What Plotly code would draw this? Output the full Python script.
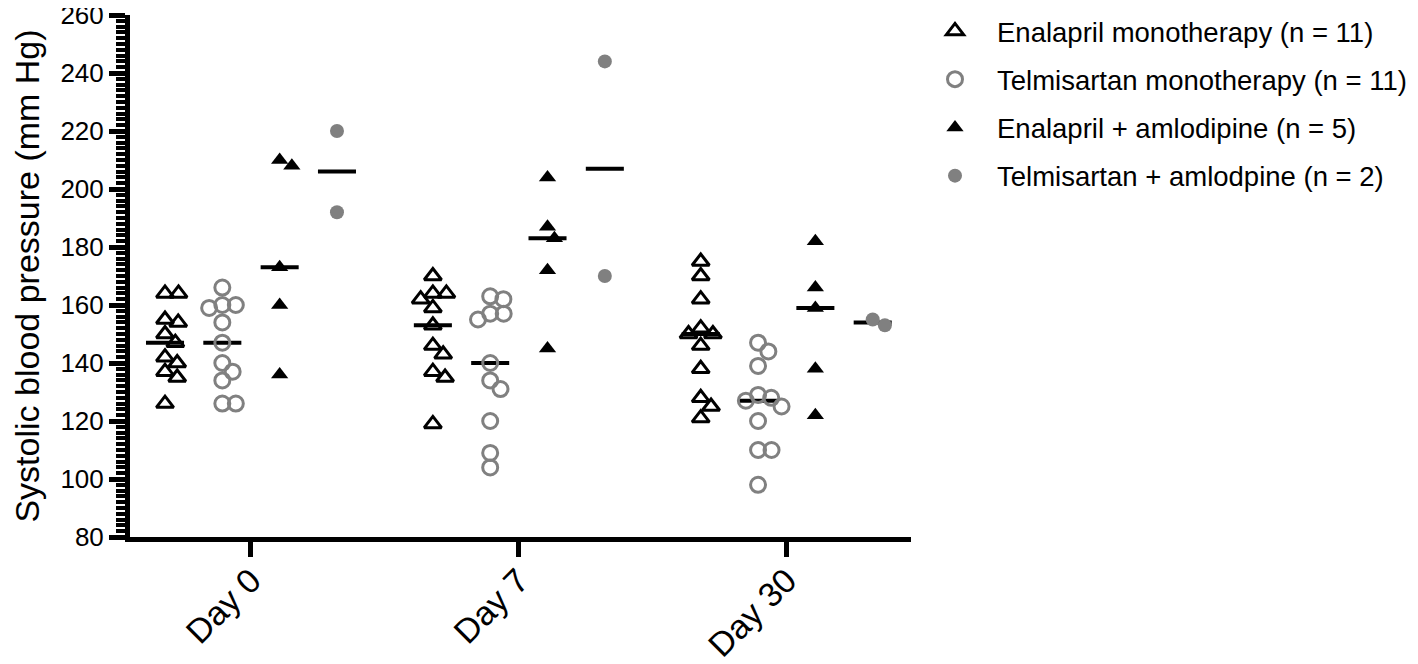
import numpy as np
import plotly.graph_objects as go

# ---------------- data ----------------
days = ["Day 0", "Day 7", "Day 30"]
series_names = [
    "Enalapril monotherapy (n = 11)",
    "Telmisartan monotherapy (n = 11)",
    "Enalapril + amlodipine (n = 5)",
    "Telmisartan + amlodpine (n = 2)",
]

# systolic blood pressure (mm Hg), one list per day (Day 0, Day 7, Day 30)
enalapril_mono = [
    [164, 164, 155, 154, 150, 147, 142, 140, 137, 135, 126],
    [170, 164, 164, 162, 159, 153, 146, 143, 137, 135, 119],
    [175, 170, 162, 152, 150, 150, 146, 138, 128, 125, 121],
]
telmisartan_mono = [
    [166, 160, 159, 160, 154, 147, 140, 137, 134, 126, 126],
    [163, 162, 157, 157, 155, 140, 134, 131, 120, 109, 104],
    [147, 144, 139, 129, 128, 127, 125, 120, 110, 110, 98],
]
enalapril_amlo = [
    [210, 208, 173, 160, 136],
    [204, 187, 183, 172, 145],
    [182, 166, 159, 138, 122],
]
telmisartan_amlo = [
    [220, 192],
    [244, 170],
    [155, 153],
]

y_ticks = [80, 100, 120, 140, 160, 180, 200, 220, 240, 260]

# ---------------- styling / layout constants ----------------
W, H = 1418, 664
ML, MR, MT, MB = 122, 515, 7, 135
X_RANGE = [-0.4517, 2.464]
Y_RANGE = [80, 260]
PLOT_W = W - ML - MR
PLOT_H = H - MT - MB
PX_X = PLOT_W / (X_RANGE[1] - X_RANGE[0])
PX_Y = PLOT_H / (Y_RANGE[1] - Y_RANGE[0])
GROUP_OFFSETS = [-0.321, -0.107, 0.107, 0.321]
HALF_LINE = 0.071
GRAY = "#808080"
FONT = "Liberation Sans, Arial, sans-serif"

styles = [
    dict(symbol="triangle-up-open", size=15, color="black", line=dict(color="black", width=3)),
    dict(symbol="circle-open", size=15, color=GRAY, line=dict(color=GRAY, width=3)),
    dict(symbol="triangle-up", size=15, color="black", line=dict(width=0)),
    dict(symbol="circle", size=14, color=GRAY, line=dict(width=0)),
]


def swarm(values, diam=13.5):
    """Simple beeswarm: horizontal offsets (axis units) so markers don't overlap."""
    vals = np.asarray(values, dtype=float)
    order = np.argsort(-vals, kind="stable")
    placed = []
    offs = np.zeros(len(vals))
    for i in order:
        y = vals[i] * PX_Y
        cands = [0.0]
        for px, py in placed:
            dy = y - py
            if abs(dy) < diam:
                dx = np.sqrt(diam ** 2 - dy ** 2)
                cands += [px + dx, px - dx]
        cands.sort(key=abs)
        for c in cands:
            if all((c - px) ** 2 + (y - py) ** 2 >= diam ** 2 - 1e-6 for px, py in placed):
                offs[i] = c
                placed.append((c, y))
                break
    return offs / PX_X


fig = go.Figure()
all_series = [enalapril_mono, telmisartan_mono, enalapril_amlo, telmisartan_amlo]

# median lines
for s_idx, series in enumerate(all_series):
    lx, ly = [], []
    for d_idx, vals in enumerate(series):
        c = d_idx + GROUP_OFFSETS[s_idx]
        m = float(np.median(vals))
        lx += [c - HALF_LINE, c + HALF_LINE, None]
        ly += [m, m, None]
    fig.add_trace(go.Scatter(x=lx, y=ly, mode="lines", line=dict(color="black", width=4),
                             showlegend=False, hoverinfo="skip"))

# points
for s_idx, series in enumerate(all_series):
    xs, ys = [], []
    for d_idx, vals in enumerate(series):
        c = d_idx + GROUP_OFFSETS[s_idx]
        offs = swarm(vals)
        xs += list(c + offs)
        ys += list(vals)
    st = styles[s_idx]
    fig.add_trace(go.Scatter(
        x=xs, y=ys, mode="markers", name=series_names[s_idx],
        legendgroup=f"g{s_idx}",
        marker=dict(symbol=st["symbol"], size=st["size"], color=st["color"], line=st["line"]),
    ))

fig.update_layout(
    width=W, height=H,
    margin=dict(l=ML, r=MR, t=MT, b=MB, autoexpand=False),
    plot_bgcolor="white", paper_bgcolor="white",
    font=dict(family=FONT, color="black"),
    legend=dict(
        x=(905 - ML) / PLOT_W, y=1 + (MT + 1.5) / PLOT_H, xanchor="left", yanchor="top",
        font=dict(size=27.5, family=FONT, color="black"),
        itemwidth=74, tracegroupgap=9.5, bgcolor="rgba(0,0,0,0)",
    ),
)
fig.update_xaxes(
    range=X_RANGE, tickvals=[0, 1, 2], ticktext=days,
    showline=True, linewidth=5, linecolor="black",
    ticks="outside", ticklen=15, tickwidth=5, tickcolor="black",
    tickangle=-45, tickfont=dict(size=34, family=FONT, color="black"),
    ticklabelstandoff=-10,
    showgrid=False, zeroline=False, automargin=False, ticklabeloverflow="allow",
)
fig.update_yaxes(
    range=Y_RANGE, tickvals=y_ticks,
    showline=True, linewidth=5, linecolor="black",
    ticks="outside", ticklen=16, tickwidth=4.5, tickcolor="black",
    minor=dict(dtick=2, ticks="outside", ticklen=9, tickwidth=3.5, tickcolor="black", showgrid=False),
    tickfont=dict(size=26, family=FONT, color="black"),
    title=dict(text="Systolic blood pressure (mm Hg)", font=dict(size=34, family=FONT, color="black"), standoff=30),
    showgrid=False, zeroline=False, automargin=False, ticklabeloverflow="allow",
)

fig.write_html("out.html")
